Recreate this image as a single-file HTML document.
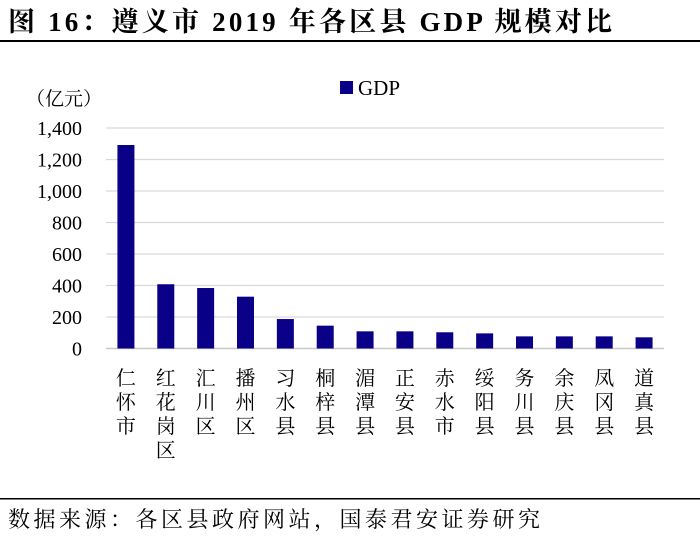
<!DOCTYPE html>
<html><head><meta charset="utf-8"><style>
body{margin:0;width:700px;height:539px;background:#fff;overflow:hidden;font-family:"Liberation Serif","Noto Serif CJK SC",serif;}
svg text{font-family:"Liberation Serif","Noto Serif CJK SC",serif;}
</style></head><body>
<svg id="c" width="700" height="539">
<text x="8" y="31" font-size="27" font-weight="bold" fill="#000" textLength="604" lengthAdjust="spacing">图 16：遵义市 2019 年各区县 GDP 规模对比</text>
<rect x="0" y="40" width="700" height="2" fill="#000"/>
<rect x="0" y="498" width="700" height="1.5" fill="#000"/>
<text x="8" y="527" font-size="22" fill="#000" textLength="532" lengthAdjust="spacing">数据来源：各区县政府网站，国泰君安证券研究</text>
<text x="26" y="105" font-size="19" fill="#000">（亿元）</text>
<rect x="340" y="81" width="13" height="13" fill="#0a0088"/>
<text x="358" y="95" font-size="21" fill="#000">GDP</text>
<g id="grid"></g><g id="bars"></g><g id="labels"></g>
</svg>
<script>
const categories=["仁怀市","红花岗区","汇川区","播州区","习水县","桐梓县","湄潭县","正安县","赤水市","绥阳县","务川县","余庆县","凤冈县","道真县"];
const gdpValues=[1292,408,384,329,187,145,109,109,103,96,77,77,77,71];
const yTicks=[0,200,400,600,800,1000,1200,1400];
const yTickLabels=["0","200","400","600","800","1,000","1,200","1,400"];
const NS="http://www.w3.org/2000/svg";
const x0=106,x1=664,yBase=348.5,yTop=128,yMax=1400;
const slot=(x1-x0)/categories.length;
const yScale=v=>yBase-(v/yMax)*(yBase-yTop);
const xCenter=i=>x0+slot*(i+0.5);
const grid=document.getElementById('grid'),bars=document.getElementById('bars'),labels=document.getElementById('labels');
yTicks.forEach((t,i)=>{
  const l=document.createElementNS(NS,'line');
  l.setAttribute('x1',x0);l.setAttribute('x2',x1);l.setAttribute('y1',yScale(t));l.setAttribute('y2',yScale(t));
  l.setAttribute('stroke',t===0?'#c8c8c8':'#d9d9d9');l.setAttribute('stroke-width',t===0?'1.5':'1.2');
  
  
  grid.appendChild(l);
  const tx=document.createElementNS(NS,'text');
  tx.setAttribute('x',82);tx.setAttribute('y',yScale(t)+7);tx.setAttribute('text-anchor','end');tx.setAttribute('font-size','20');
  tx.textContent=yTickLabels[i];
  
  
  grid.appendChild(tx);
});
gdpValues.forEach((v,i)=>{
  const r=document.createElementNS(NS,'rect');
  const bw=17;
  r.setAttribute('x',xCenter(i)-bw/2);r.setAttribute('width',bw);
  r.setAttribute('y',yScale(v));r.setAttribute('height',yBase-yScale(v));
  r.setAttribute('fill','#0a0088');
  
  
  bars.appendChild(r);
});
categories.forEach((c,i)=>{
  const g=document.createElementNS(NS,'text');
  g.setAttribute('font-size','20');g.setAttribute('text-anchor','middle');
  
  
  [...c].forEach((ch,k)=>{
    const s=document.createElementNS(NS,'tspan');
    s.setAttribute('x',xCenter(i));s.setAttribute('y',385+k*24);
    s.textContent=ch;g.appendChild(s);
  });
  labels.appendChild(g);
});
</script>
</body></html>
